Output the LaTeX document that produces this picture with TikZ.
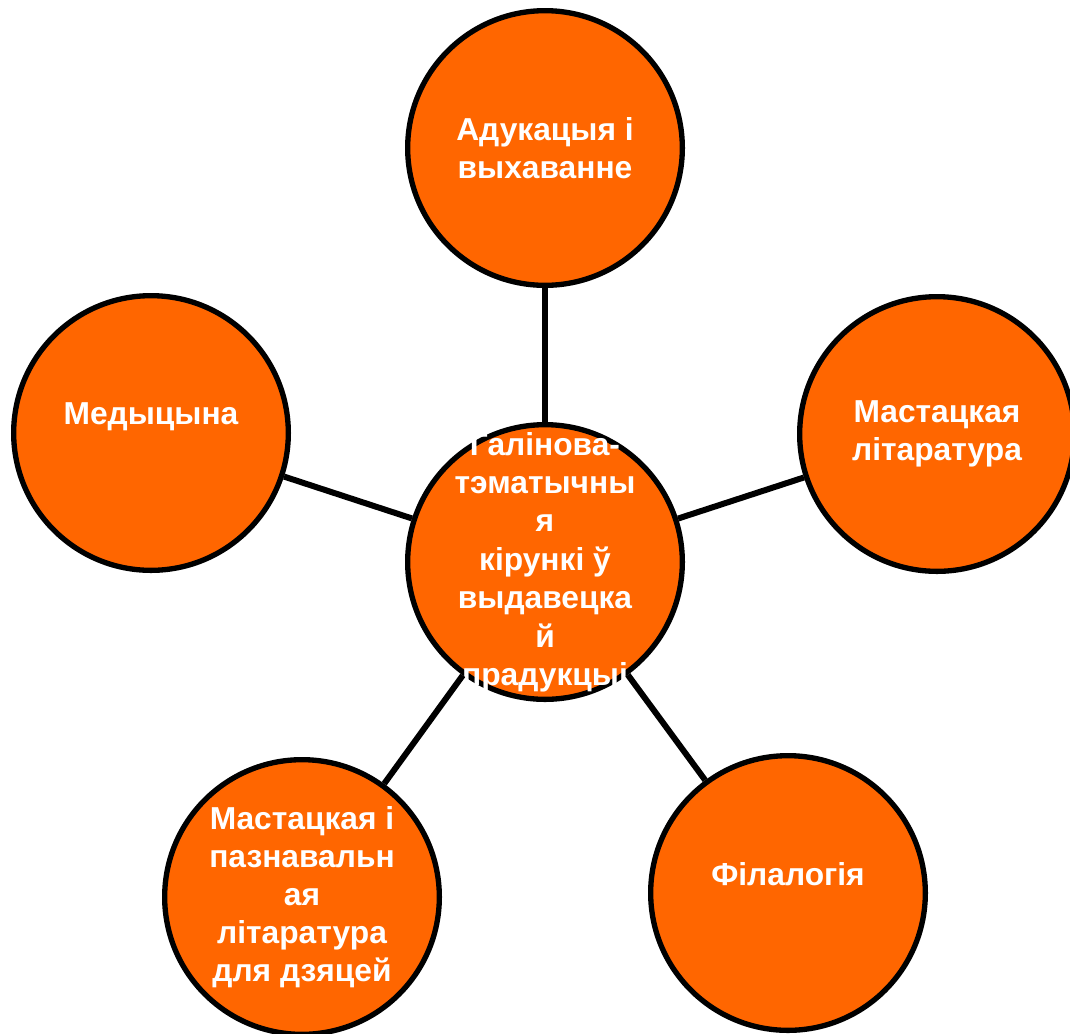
\documentclass[tikz,border=0pt]{standalone}
\usepackage{fontspec}
\setmainfont{Liberation Sans}
\usetikzlibrary{positioning}
\definecolor{bubbleorange}{RGB}{255,102,0}

\begin{document}
\begin{tikzpicture}[x=0.75pt,y=-0.75pt,
  bubble/.style={circle,draw=black,line width=4pt,fill=bubbleorange,
    minimum size=206pt,inner sep=0pt,align=center,text=white,
    font=\fontsize{23.8pt}{28.5pt}\selectfont\bfseries},
  spoke/.style={line width=4.5pt}]
\useasboundingbox (0,0) rectangle (1070,1033);
% centre and the five topics round it
\node[bubble,label={[text=white,align=center,font=\fontsize{23.8pt}{28.8pt}\selectfont\bfseries]center:Галінова-\\тэматычны\\я\\кірункі ў\\выдавецка\\й\\прадукцыі}] (hub) at (545,562) {};
\node[bubble] (edu) at (545,148) {Адукацыя і\\выхаванне};
\node[bubble] (lit) at (937,434) {Мастацкая\\літаратура};
\node[bubble] (med) at (151,433) {Медыцына\\\mbox{}};
\node[bubble] (kids) at (302,897) {Мастацкая і\\пазнавальн\\ая\\літаратура\\для дзяцей};
\node[bubble] (phil) at (788,893) {Філалогія\\\mbox{}};
\foreach \t in {edu,lit,phil,kids,med} {
  \draw[spoke] (hub) -- (\t);
}
\end{tikzpicture}
\end{document}
